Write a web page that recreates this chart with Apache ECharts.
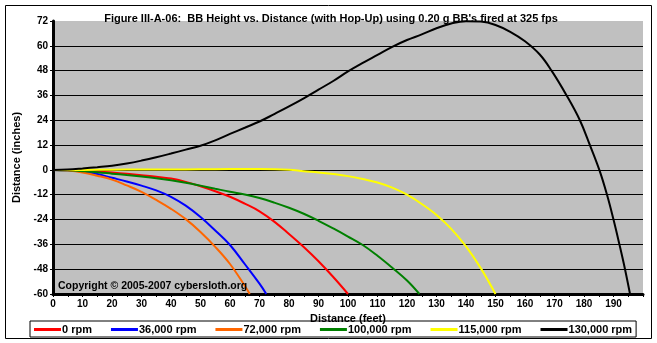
<!DOCTYPE html>
<html>
<head>
<meta charset="utf-8">
<script src="https://cdn.jsdelivr.net/npm/echarts@6/dist/echarts.min.js"></script>
<style>
html,body{margin:0;padding:0;background:#fff;}
#c{width:657px;height:343px;}
</style>
</head>
<body>
<div id="c"></div>
<script>
// ---- data (distance in feet, height in inches) ----
const seriesNames = ['0 rpm', '36,000 rpm', '72,000 rpm', '100,000 rpm', '115,000 rpm', '130,000 rpm'];

const redX = [0,5,10,15,20,25,30,35,40,45,50,55,60,65,70,75,80,85,90,95,100];
const redY = [0,-0.1,-0.4,-0.8,-1.3,-1.9,-2.6,-3.3,-4.2,-5.8,-7.9,-10.3,-13.0,-16.3,-20.0,-25.0,-31.0,-37.3,-44.2,-51.8,-60];

const blueX = [0,5,10,15,20,25,30,35,40,45,50,55,60,65,70,72.3];
const blueY = [0,-0.2,-0.8,-2.0,-3.8,-5.6,-7.6,-9.9,-13.0,-17.3,-22.8,-29.3,-36.3,-45.5,-55.0,-60];

const orangeX = [0,5,10,15,20,25,30,35,40,45,50,55,60,65,66.7];
const orangeY = [0,-0.3,-1.2,-2.8,-4.7,-7.5,-10.6,-14.5,-18.8,-23.8,-30.0,-37.2,-45.5,-56.0,-60];

const greenX = [0,5,10,15,20,25,30,35,40,45,50,55,60,65,70,75,80,85,90,95,100,105,110,115,120,124.2];
const greenY = [0,-0.2,-0.6,-1.1,-1.8,-2.5,-3.2,-4.0,-5.0,-6.2,-7.6,-9.1,-10.6,-11.9,-13.6,-15.8,-18.3,-21.2,-24.6,-28.3,-32.2,-36.3,-41.5,-47.3,-53.5,-60];

const yellowX = [0,10,20,30,40,50,60,70,80,85,90,95,100,105,110,115,120,125,130,135,140,145,150];
const yellowY = [0,0,0.1,0.2,0.2,0.3,0.4,0.4,0.1,-0.6,-1.2,-2.0,-3.0,-4.4,-6.1,-8.6,-12.0,-16.5,-21.8,-28.5,-37.0,-47.5,-60];

const blackX = [0,5,10,15,20,25,30,35,40,45,50,55,60,65,70,75,80,85,90,95,100,105,110,115,120,125,130,135,140,145,150,155,160,165,169,174.1,178.6,182,185.2,187.8,190,192,193.9,195.6];
const blackY = [0,0.2,0.7,1.3,2.0,3.1,4.5,6.1,7.9,9.8,11.7,14.3,17.4,20.4,23.4,27.0,30.7,34.6,38.8,43.0,47.6,51.7,55.6,59.5,62.8,65.5,68.5,70.8,71.9,71.7,70.1,66.8,62.2,55.8,48,36,24,12,0,-12,-24,-36,-48,-60];

const xTicks = {min: 0, max: 200, step: 10};
const yTicks = {min: -60, max: 72, step: 12};

const colors = ['#FF0000', '#0000FF', '#FF6600', '#008000', '#FFFF00', '#000000'];

function pairs(xs, ys) { return xs.map((x, i) => [x, ys[i]]); }
const allData = [
  pairs(redX, redY), pairs(blueX, blueY), pairs(orangeX, orangeY),
  pairs(greenX, greenY), pairs(yellowX, yellowY), pairs(blackX, blackY)
];

const boldFont = "'Liberation Sans', Arial, sans-serif";
const narrowFont = "'Liberation Sans Narrow', 'Liberation Sans', Arial, sans-serif";

const chart = echarts.init(document.getElementById('c'), null, {renderer: 'canvas'});
chart.setOption({
  animation: false,
  backgroundColor: '#ffffff',
  title: {
    text: "Figure III-A-06:  BB Height vs. Distance (with Hop-Up) using 0.20 g BB's fired at 325 fps",
    left: 326, top: 8, textAlign: 'center',
    textStyle: {fontFamily: boldFont, fontWeight: 'bold', fontSize: 11, color: '#000'}
  },
  graphic: [
    {type: 'rect', shape: {x: 5.5, y: 5.5, width: 646, height: 333}, style: {fill: 'none', stroke: '#000', lineWidth: 1}, z: 100, silent: true},
    {type: 'text', x: 58, y: 281, style: {text: 'Copyright \u00A9 2005-2007 cybersloth.org', font: "bold 10.5px 'Liberation Sans', Arial, sans-serif", fill: '#000'}, z: 100}
  ],
  grid: {left: 53, top: 21, width: 590, height: 273, show: true, backgroundColor: '#C0C0C0', borderWidth: 0, containLabel: false},
  legend: {
    data: seriesNames,
    left: 30, top: 321, width: 620,
    orient: 'horizontal',
    icon: 'rect', itemWidth: 27, itemHeight: 3, itemGap: 19,
    padding: [3, 4, 2, 4],
    borderColor: '#000', borderWidth: 1,
    textStyle: {fontFamily: boldFont, fontWeight: 'bold', fontSize: 11, color: '#000', padding: [0, 0, 0, -4]}
  },
  xAxis: {
    type: 'value', min: xTicks.min, max: xTicks.max, interval: xTicks.step,
    name: 'Distance (feet)', nameLocation: 'middle', nameGap: 15,
    nameTextStyle: {fontFamily: boldFont, fontWeight: 'bold', fontSize: 11, color: '#000'},
    axisLine: {show: true, onZero: false, lineStyle: {color: '#000', width: 3}},
    axisTick: {show: true, inside: false, length: 3, lineStyle: {color: '#000', width: 1}},
    minorTick: {show: true, splitNumber: 2, length: 3, lineStyle: {color: '#000', width: 1}},
    axisLabel: {fontFamily: narrowFont, fontWeight: 'bold', fontSize: 10, color: '#000', margin: 5, showMaxLabel: false},
    splitLine: {show: false}
  },
  yAxis: {
    type: 'value', min: yTicks.min, max: yTicks.max, interval: yTicks.step,
    name: 'Distance (inches)', nameLocation: 'middle', nameGap: 27, nameRotate: 90,
    nameTextStyle: {fontFamily: boldFont, fontWeight: 'bold', fontSize: 11, color: '#000'},
    axisLine: {show: true, lineStyle: {color: '#000', width: 3}},
    axisTick: {show: true, inside: false, length: 3, lineStyle: {color: '#000', width: 1}},
    axisLabel: {fontFamily: narrowFont, fontWeight: 'bold', fontSize: 10, color: '#000', margin: 5},
    splitLine: {show: true, showMinLine: false, showMaxLine: false, lineStyle: {color: '#000', width: 1}}
  },
  series: seriesNames.map((n, i) => ({
    name: n, type: 'line', data: allData[i], smooth: 0.4,
    showSymbol: false, symbol: 'none', clip: true,
    color: colors[i],
    lineStyle: {color: colors[i], width: 2}
  }))
});
</script>
</body>
</html>
